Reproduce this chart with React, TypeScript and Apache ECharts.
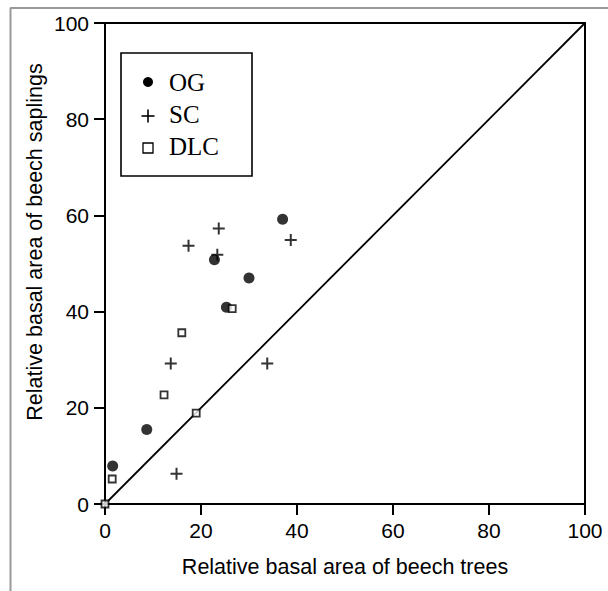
import React, { useEffect, useRef } from "react";
import * as echarts from "echarts";

const seriesNames = ["OG", "SC", "DLC"];
const ogPoints: number[][] = [
  [1.6, 7.9],
  [8.7, 15.5],
  [22.8, 50.8],
  [25.3, 40.9],
  [30.0, 47.0],
  [37.0, 59.2],
];
const scPoints: number[][] = [
  [23.7, 57.3],
  [17.4, 53.7],
  [23.4, 51.8],
  [38.7, 54.9],
  [13.7, 29.2],
  [33.8, 29.2],
  [14.9, 6.3],
];
const dlcPoints: number[][] = [
  [0, 0],
  [1.5, 5.2],
  [12.3, 22.7],
  [19.0, 18.9],
  [16.0, 35.6],
  [26.5, 40.6],
];
const identityLine: number[][] = [
  [0, 0],
  [100, 100],
];
const axisMin = 0;
const axisMax = 100;
const axisStep = 20;
const xTitle = "Relative basal area of beech trees";
const yTitle = "Relative basal area of beech saplings";

const PLUS = "path://M5,0H7V5H12V7H7V12H5V7H0V5H5Z";

export default function App() {
  const ref = useRef<HTMLDivElement>(null);
  useEffect(() => {
    if (!ref.current) return;
    const chart = echarts.init(ref.current, null, { renderer: "svg" });
    const sans = "Liberation Sans";
    const serif = "Liberation Serif";
    const axisCommon = {
      type: "value",
      min: axisMin,
      max: axisMax,
      interval: axisStep,
      splitLine: { show: false },
      axisLine: { show: true, onZero: false, lineStyle: { color: "#000", width: 2 } },
      axisTick: { show: true, inside: false, length: 11, lineStyle: { color: "#000", width: 2 } },
      axisLabel: { color: "#000", fontSize: 21, fontFamily: sans, margin: 16 },
      nameLocation: "middle",
      nameTextStyle: { color: "#000", fontSize: 21.5, fontFamily: sans },
    };
    const lx = 148;
    const ly = [82, 116, 148];
    chart.setOption({
      animation: false,
      backgroundColor: "#fff",
      grid: {
        left: 105,
        right: 23,
        top: 23,
        bottom: 87,
        show: true,
        borderColor: "#000",
        borderWidth: 2,
        backgroundColor: "transparent",
      },
      xAxis: { ...axisCommon, name: xTitle, nameGap: 52 },
      yAxis: { ...axisCommon },
      series: [
        {
          type: "line",
          data: identityLine,
          symbol: "none",
          lineStyle: { color: "#000", width: 1.8 },
          silent: true,
          z: 1,
        },
        {
          name: seriesNames[0],
          type: "scatter",
          data: ogPoints,
          symbol: "circle",
          symbolSize: 11,
          itemStyle: { color: "#000" },
          clip: false,
          z: 3,
        },
        {
          name: seriesNames[1],
          type: "scatter",
          data: scPoints,
          symbol: PLUS,
          symbolSize: 12,
          itemStyle: { color: "#000" },
          clip: false,
          z: 3,
        },
        {
          name: seriesNames[2],
          type: "scatter",
          data: dlcPoints,
          symbol: "rect",
          symbolSize: 7,
          itemStyle: { color: "#fff", borderColor: "#000", borderWidth: 1.8 },
          clip: false,
          z: 4,
        },
      ],
      graphic: [
        { type: "line", shape: { x1: 10, y1: 8, x2: 608, y2: 8 }, style: { stroke: "#999", lineWidth: 2 } },
        { type: "line", shape: { x1: 10.5, y1: 8, x2: 10.5, y2: 591 }, style: { stroke: "#999", lineWidth: 2 } },
        {
          type: "text",
          x: 35,
          y: 242,
          rotation: Math.PI / 2,
          style: { text: yTitle, fill: "#000", font: `21.5px ${sans}`, textAlign: "center", verticalAlign: "middle" },
        },
        {
          type: "rect",
          shape: { x: 121, y: 53, width: 131, height: 123 },
          style: { fill: "#fff", stroke: "#000", lineWidth: 1.6 },
          z: 10,
        },
        { type: "circle", shape: { cx: lx, cy: ly[0], r: 5 }, style: { fill: "#000" }, z: 11 },
        { type: "line", shape: { x1: lx - 6.5, y1: ly[1], x2: lx + 6.5, y2: ly[1] }, style: { stroke: "#000", lineWidth: 1.6 }, z: 11 },
        { type: "line", shape: { x1: lx, y1: ly[1] - 6.5, x2: lx, y2: ly[1] + 6.5 }, style: { stroke: "#000", lineWidth: 1.6 }, z: 11 },
        { type: "rect", shape: { x: lx - 5, y: ly[2] - 5, width: 10, height: 10 }, style: { fill: "#fff", stroke: "#000", lineWidth: 1.3 }, z: 11 },
        ...seriesNames.map((n, i) => ({
          type: "text",
          x: 169,
          y: ly[i] - (i === 0 ? 0 : 2),
          style: { text: n, fill: "#000", font: `25px ${serif}`, verticalAlign: "middle", textAlign: "left" },
          z: 11,
        })),
      ],
    });
    return () => chart.dispose();
  }, []);
  return <div ref={ref} style={{ position: "absolute", left: 0, top: 0, width: 608, height: 591 }} />;
}
